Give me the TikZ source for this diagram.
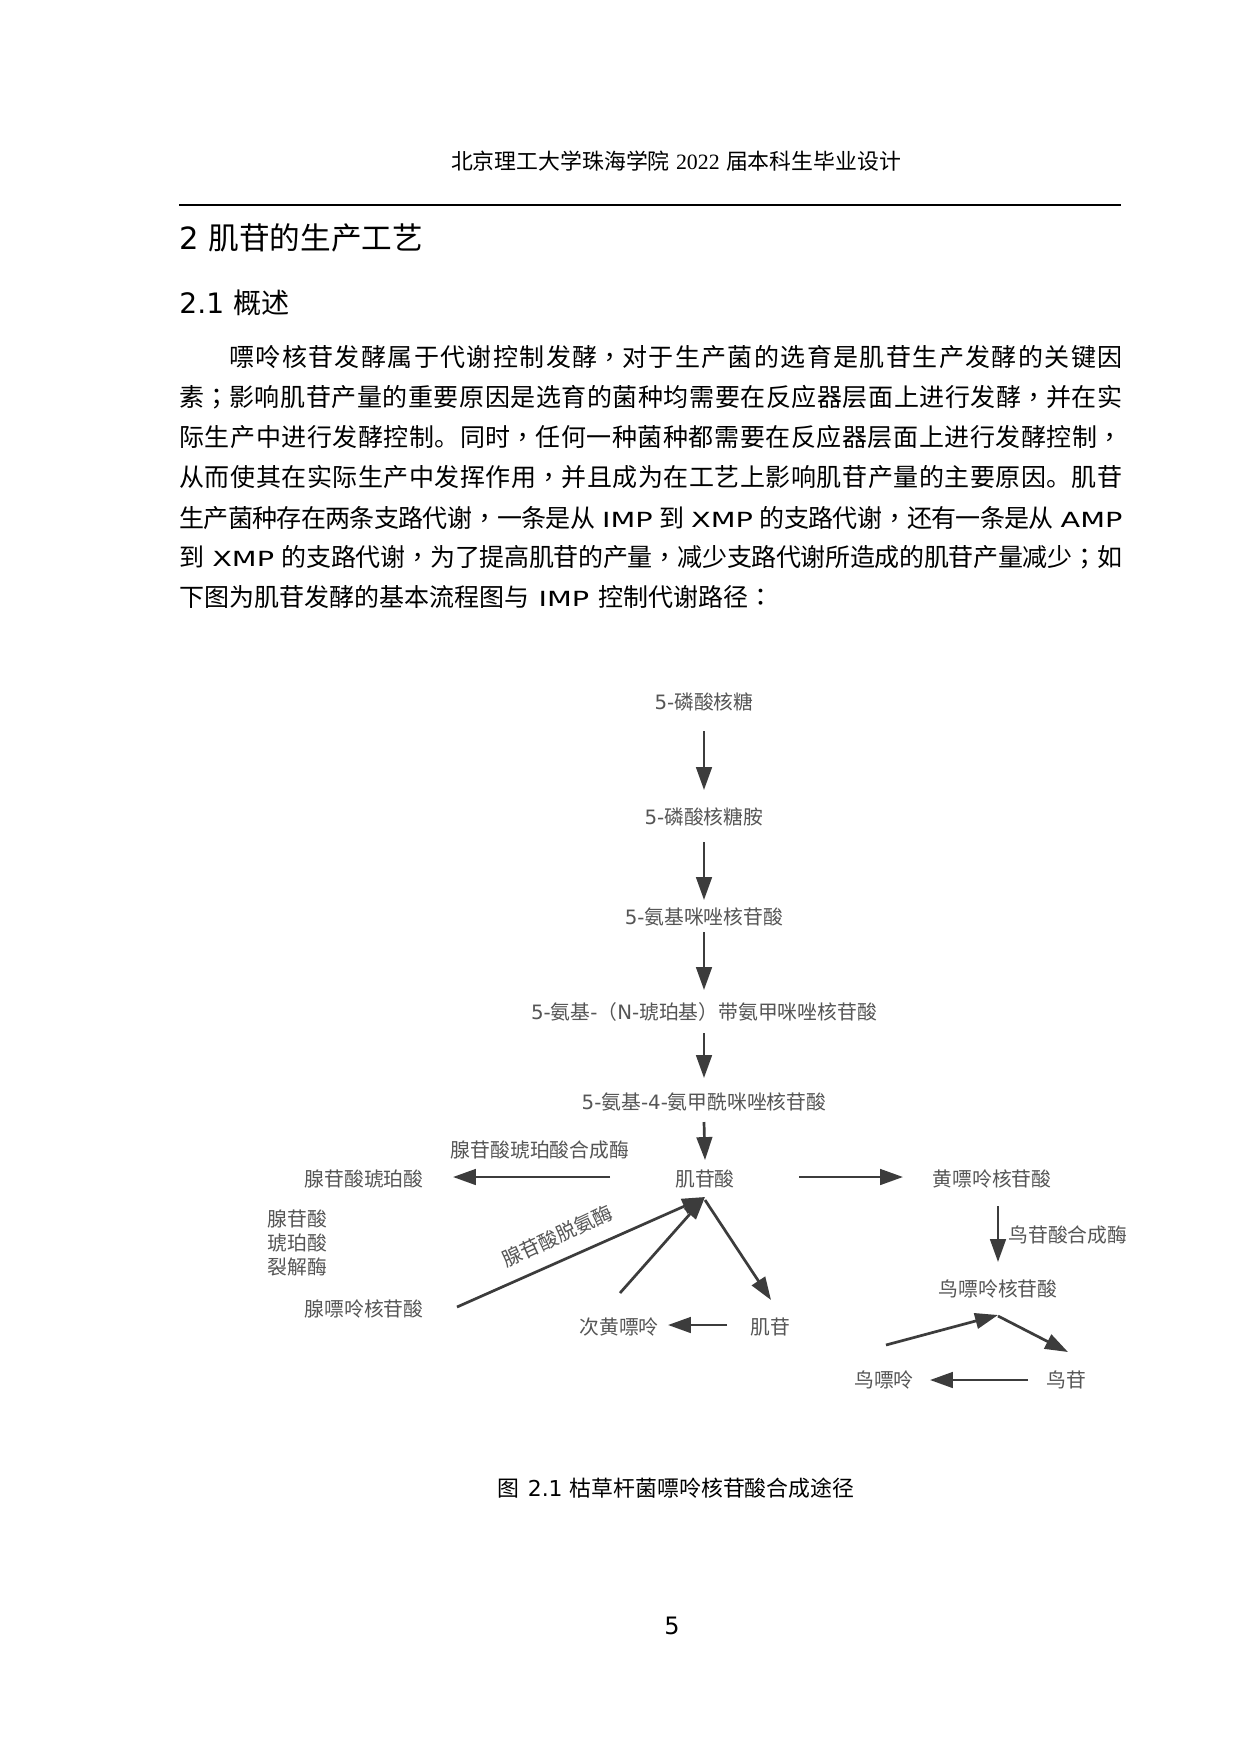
\documentclass[tikz,border=0pt]{standalone}
\usepackage{fontspec}
\setmainfont{Noto Sans CJK SC}
\newfontfamily\tcf{Noto Sans CJK TC}
\newfontfamily\lat{DejaVu Sans}
\newfontfamily\latw[FakeStretch=1.38]{DejaVu Sans}
\newfontfamily\tms{Liberation Serif}
\usetikzlibrary{arrows.meta,calc}
\XeTeXlinebreaklocale "zh"
\XeTeXlinebreakskip=0pt plus 1pt minus 0.4pt
\newcommand\lw[1]{{\latw\fontsize{10pt}{12pt}\selectfont #1}}
\newcommand\cm{{\tcf ，}}
\newcommand\sm{{\tcf ；}}
\newcommand\co{{\tcf ：}}
\newcommand\jline[1]{\noindent\tolerance=10000\hbadness=10000\parfillskip=0pt\relax\XeTeXlinebreakpenalty=10000\relax #1\par}
\definecolor{dgrey}{HTML}{555555}
\definecolor{agrey}{HTML}{3C3C3C}
\tikzset{
  body/.style={inner sep=0pt, anchor=west, font=\fontsize{12pt}{19pt}\selectfont},
  jbody/.style={body, text width=452.64pt, align=justify},
  dtext/.style={inner sep=0pt, text=dgrey, font=\fontsize{9.5pt}{11.3pt}\selectfont},
  arr/.style={draw=agrey, line width=1.3pt, -{Triangle[length=11pt,width=7.5pt]}},
}
\begin{document}
\begin{tikzpicture}[x=0.48pt,y=-0.48pt]
\fill[white] (0,0) rectangle (1240,1754);
\useasboundingbox (0,0) rectangle (1240,1754);
% header
\node[inner sep=0pt, font=\fontsize{10.5pt}{12pt}\selectfont] (hdr) at (676,161)
  {北京理工大学珠海学院\hspace{3pt}{\tms 2022}\hspace{3pt}届本科生毕业设计};
\draw[line width=1pt] (179,205) -- (1121,205);
% headings
\node[inner sep=0pt, anchor=west, font=\fontsize{14.7pt}{17pt}\selectfont] (h1) at (179,238)
  {{\lat 2 }肌苷的生产工艺};
\node[inner sep=0pt, anchor=west, font=\fontsize{13.5pt}{16pt}\selectfont] (h2) at (179,303)
  {{\lat 2.1 }概述};
% body
\node[body, text width=428.64pt, align=justify] (p1) at (229,357) {\jline{嘌呤核苷发酵属于代谢控制发酵\cm 对于生产菌的选育是肌苷生产发酵的关键因}};
\node[jbody] (p2) at (179,397) {\jline{素\sm 影响肌苷产量的重要原因是选育的菌种均需要在反应器层面上进行发酵\cm 并在实}};
\node[jbody] (p3) at (179,437) {\jline{际生产中进行发酵控制。同时\cm 任何一种菌种都需要在反应器层面上进行发酵控制\cm}};
\node[jbody] (p4) at (179,477) {\jline{从而使其在实际生产中发挥作用\cm 并且成为在工艺上影响肌苷产量的主要原因。肌苷}};
\node[jbody] (p5) at (179,518) {\jline{生产菌种存在两条支路代谢\cm 一条是从\lw{~IMP~}到\lw{~XMP~}的支路代谢\cm 还有一条是从\lw{~AMP}}};
\node[jbody] (p6) at (179,557) {\jline{到\lw{~XMP~}的支路代谢\cm 为了提高肌苷的产量\cm 减少支路代谢所造成的肌苷产量减少\sm 如}};
\node[body] (p7) at (179,597) {下图为肌苷发酵的基本流程图与\lw{~IMP~}控制代谢路径\co};
% diagram nodes
\node[dtext] (n1) at (704,702) {{\lat 5-}磷酸核糖};
\node[dtext] (n2) at (704,817) {{\lat 5-}磷酸核糖胺};
\node[dtext] (n3) at (704,917) {{\lat 5-}氨基咪唑核苷酸};
\node[dtext] (n4) at (704,1012) {{\lat 5-}氨基{\lat -}（{\lat N-}琥珀基）带氨甲咪唑核苷酸};
\node[dtext] (n5) at (704,1102) {{\lat 5-}氨基{\lat -4-}氨甲酰咪唑核苷酸};
\node[dtext] (imp) at (705,1179) {肌苷酸};
\node[dtext] (amps) at (364,1179) {腺苷酸琥珀酸};
\node[dtext] (adss) at (540,1150) {腺苷酸琥珀酸合成酶};
\node[dtext] (xmp) at (992,1179) {黄嘌呤核苷酸};
\node[dtext, anchor=west] (gmps) at (1008,1235) {鸟苷酸合成酶};
\node[dtext] (gmp) at (998,1289) {鸟嘌呤核苷酸};
\node[dtext, anchor=west, align=left, font=\fontsize{9.5pt}{11.3pt}\selectfont] (asl) at (267,1243) {腺苷酸\\琥珀酸\\裂解酶};
\node[dtext] (ade) at (364,1309) {腺嘌呤核苷酸};
\node[dtext, rotate=25] (ada) at (557,1236) {腺苷酸脱氨酶};
\node[dtext] (hx) at (619,1327) {次黄嘌呤};
\node[dtext] (ino) at (770,1327) {肌苷};
\node[dtext] (gua) at (884,1380) {鸟嘌呤};
\node[dtext] (guo) at (1066,1380) {鸟苷};
% arrows
\draw[arr] ($(n1)+(0,29)$) -- ($(n2)+(0,-27)$);
\draw[arr] ($(n2)+(0,25)$) -- ($(n3)+(0,-17)$);
\draw[arr] ($(n3)+(0,15)$) -- ($(n4)+(0,-22)$);
\draw[arr] ($(n4)+(0,21)$) -- ($(n5)+(0,-24)$);
\draw[arr] ($(n5)+(0,20)$) -- ($(imp)+(0,-19)$);
\draw[arr] ($(imp)+(-95,-2)$) -- ($(amps)+(89,-2)$);
\draw[arr] ($(imp)+(94,-2)$) -- ($(xmp)+(-89,-2)$);
\draw[arr] ($(gmp |- xmp)+(0,27)$) -- ($(gmp)+(0,-27)$);
\draw[arr] ($(ade)+(93,-2)$) -- ($(imp)+(0,18)$);
\draw[arr] ($(hx)+(1,-34)$) -- ($(imp)+(0,18)$);
\draw[arr] ($(imp)+(0,21)$) -- ($(ino)+(1,-27)$);
\draw[arr] ($(ino)+(-43,-2)$) -- ($(hx)+(49,-2)$);
\draw[arr] ($(gua)+(2,-35)$) -- ($(gmp)+(0,26)$);
\draw[arr] ($(gmp)+(0,27)$) -- ($(guo)+(2,-28)$);
\draw[arr] ($(guo)+(-38,0)$) -- ($(gua)+(46,0)$);
% caption and page number
\node[inner sep=0pt, font=\fontsize{10.5pt}{12pt}\selectfont] (cap) at (676,1488)
  {图\hspace{4pt}{\lat 2.1}\hspace{3.5pt}枯草杆菌嘌呤核苷酸合成途径};
\node[inner sep=0pt, font=\fontsize{11.5pt}{13pt}\selectfont] (pg) at (672,1626) {\lat 5};
\end{tikzpicture}
\end{document}
